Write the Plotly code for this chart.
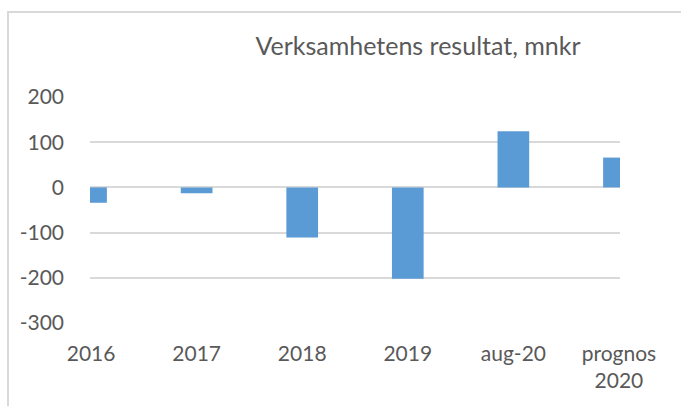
import plotly.graph_objects as go

# Data
categories = ['2016', '2017', '2018', '2019', 'aug-20', 'prognos<br>2020']
resultat = [-34, -13, -111, -202, 124, 66]
y_ticks = [-300, -200, -100, 0, 100, 200]
y_tick_labels = ['-300', '-200', '-100', '0', '100', '200']

BAR_COLOR = '#5b9bd5'
TEXT_COLOR = '#595959'
GRID_COLOR = '#d9d9d9'
FONT = 'Lato'

W, H = 681, 406
ML, MR, MT, MB = 90, 61, 97, 83
PW = W - ML - MR
PH = H - MT - MB


def px_x(x):
    return (x - ML) / PW


def px_y(y):
    return (H - MB - y) / PH


fig = go.Figure(
    data=[
        go.Bar(
            x=categories,
            y=resultat,
            width=0.3,
            marker=dict(color=BAR_COLOR, line=dict(width=0)),
            hoverinfo='x+y',
        )
    ]
)

fig.update_layout(
    width=W,
    height=H,
    margin=dict(l=ML, r=MR, t=MT, b=MB),
    paper_bgcolor='white',
    plot_bgcolor='white',
    showlegend=False,
    font=dict(family=FONT, color=TEXT_COLOR, size=21),
    title=dict(
        text='Verksamhetens resultat, mnkr',
        font=dict(family=FONT, size=25, color=TEXT_COLOR),
        x=px_x(418),
        xref='paper',
        xanchor='center',
        y=1 - 46 / H,
        yref='container',
        yanchor='middle',
    ),
    xaxis=dict(
        type='category',
        range=[-0.01, 5.01],
        showgrid=False,
        showline=False,
        zeroline=False,
        ticks='',
        ticklabelstandoff=16,
        tickfont=dict(family=FONT, size=21, color=TEXT_COLOR),
    ),
    yaxis=dict(
        range=[-300, 200],
        tickvals=y_ticks,
        ticktext=y_tick_labels,
        showgrid=True,
        gridcolor=GRID_COLOR,
        gridwidth=1.5,
        zeroline=True,
        zerolinecolor=GRID_COLOR,
        zerolinewidth=1.5,
        showline=False,
        ticks='',
        ticklabelstandoff=25,
        tickfont=dict(family=FONT, size=21, color=TEXT_COLOR),
    ),
    shapes=[
        dict(
            type='rect',
            xref='paper',
            yref='paper',
            x0=px_x(8),
            x1=px_x(700),
            y0=px_y(430),
            y1=px_y(12),
            line=dict(color=GRID_COLOR, width=2),
            fillcolor='rgba(0,0,0,0)',
            layer='below',
        )
    ],
)

# drop the default body margin so the figure sits at the page origin
fig.write_html(
    'out.html',
    config={'displayModeBar': False},
    post_script="document.body.style.margin='0';",
)
